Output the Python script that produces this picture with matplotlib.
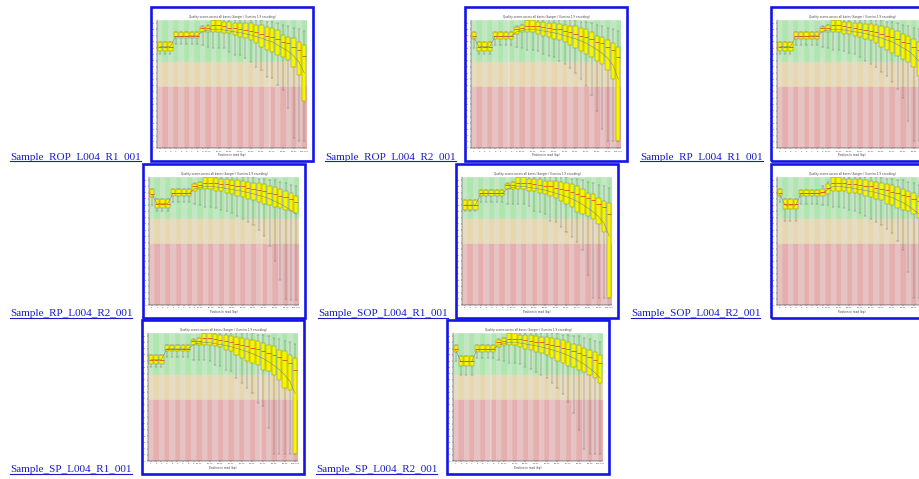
import numpy as np
import matplotlib.pyplot as plt
from matplotlib.patches import Rectangle
from matplotlib.lines import Line2D

W, H = 920, 479

bins = ['1', '2', '3', '4', '5', '6', '7', '8', '9', '10-14', '15-19', '20-24',
        '25-29', '30-34', '35-39', '40-44', '45-49', '50-54', '55-59', '60-64',
        '65-69', '70-74', '75-79', '80-84', '85-89', '90-94', '95-99', '100-101']

# --- Sample_ROP_L004_R1_001
rop_r1_lo = [30.0, 30.0, 30.0, 33.2, 33.2, 33.2, 33.2, 33.2, 33.0, 32.5, 32.0, 31.9, 31.9, 30.9, 29.8, 29.8, 28.8, 27.7, 26.1, 25.0, 22.9, 22.4, 20.2, 18.6, 12.8, 3.2, 2.1, 2.1]
rop_r1_q1 = [31.1, 31.1, 31.1, 35.1, 35.1, 35.1, 35.1, 35.1, 37.3, 37.3, 37.3, 37.3, 36.7, 36.7, 36.2, 35.7, 35.1, 34.6, 33.5, 32.5, 31.4, 30.9, 29.8, 29.3, 28.2, 26.1, 23.4, 14.9]
rop_r1_med = [32.3, 32.3, 32.3, 36.0, 36.0, 36.0, 36.0, 36.0, 38.3, 38.5, 39.3, 39.3, 39.0, 38.5, 38.3, 38.0, 37.8, 37.5, 37.0, 36.5, 36.0, 35.5, 35.0, 34.0, 33.5, 32.5, 31.5, 29.5]
rop_r1_q3 = [33.9, 33.9, 33.9, 37.1, 37.1, 37.1, 37.1, 37.1, 38.9, 39.2, 41.0, 41.0, 40.5, 40.3, 39.9, 39.9, 39.9, 39.9, 39.4, 39.4, 38.9, 38.3, 37.8, 36.2, 35.7, 35.1, 34.1, 33.0]
rop_r1_hi = [33.9, 33.9, 33.9, 37.1, 37.1, 37.1, 37.1, 37.1, 39.0, 39.5, 41.0, 41.0, 41.0, 41.0, 41.0, 41.0, 41.0, 41.0, 41.0, 41.0, 40.5, 40.5, 40.0, 39.5, 39.0, 38.5, 38.0, 37.5]
rop_r1_mean = [32.5, 32.5, 32.5, 35.8, 35.8, 35.8, 35.9, 35.9, 37.4, 37.7, 38.0, 38.0, 37.8, 37.5, 37.2, 37.0, 36.6, 36.2, 35.7, 35.2, 34.5, 34.0, 33.0, 32.0, 31.0, 29.5, 27.5, 24.0]

# --- Sample_ROP_L004_R2_001
rop_r2_lo = [32.0, 30.0, 30.0, 30.0, 33.0, 33.0, 33.0, 33.0, 32.5, 32.0, 31.5, 31.5, 31.0, 30.0, 29.5, 29.0, 28.0, 27.0, 25.5, 24.0, 22.0, 20.0, 17.0, 12.0, 6.0, 2.1, 2.1, 2.1]
rop_r2_q1 = [35.0, 31.0, 31.0, 31.0, 35.0, 35.0, 35.0, 35.0, 36.5, 37.0, 37.0, 37.0, 36.5, 36.0, 35.5, 35.0, 34.5, 34.0, 33.0, 32.0, 31.0, 30.0, 29.0, 28.0, 27.0, 25.0, 22.0, 2.1]
rop_r2_med = [36.0, 32.5, 32.5, 32.5, 36.0, 36.0, 36.0, 36.0, 38.0, 38.5, 39.2, 39.2, 39.0, 38.7, 38.5, 38.2, 38.0, 37.5, 37.0, 36.5, 36.0, 35.5, 35.0, 34.0, 33.5, 32.5, 31.5, 29.0]
rop_r2_q3 = [37.0, 34.0, 34.0, 34.0, 37.0, 37.0, 37.0, 37.0, 38.9, 39.5, 41.0, 41.0, 40.5, 40.3, 40.0, 40.0, 39.8, 39.5, 39.2, 39.0, 38.5, 38.0, 37.0, 36.0, 35.5, 34.5, 33.5, 32.5]
rop_r2_hi = [37.0, 34.0, 34.0, 34.0, 37.0, 37.0, 37.0, 37.0, 39.0, 39.5, 41.0, 41.0, 41.0, 41.0, 41.0, 41.0, 41.0, 41.0, 41.0, 41.0, 40.5, 40.5, 40.0, 39.5, 39.0, 38.5, 38.0, 37.5]
rop_r2_mean = [35.5, 32.5, 32.5, 32.5, 35.8, 35.8, 35.8, 35.8, 37.2, 37.6, 38.0, 38.0, 37.8, 37.5, 37.2, 36.9, 36.5, 36.0, 35.5, 35.0, 34.3, 33.6, 32.6, 31.5, 30.3, 28.8, 26.5, 22.0]

# --- Sample_RP_L004_R1_001
rp_r1_lo = [30.0, 30.0, 30.0, 33.0, 33.0, 33.0, 33.0, 33.0, 32.5, 32.0, 31.5, 31.5, 31.0, 30.5, 30.0, 29.0, 28.0, 27.0, 26.0, 24.5, 23.0, 21.0, 19.0, 16.0, 8.5, 2.1, 2.1, 2.1]
rp_r1_q1 = [31.0, 31.0, 31.0, 35.0, 35.0, 35.0, 35.0, 35.0, 37.0, 37.0, 37.0, 37.0, 36.5, 36.5, 36.0, 35.5, 35.0, 34.5, 33.5, 32.5, 31.5, 30.5, 29.5, 28.5, 27.5, 26.0, 23.0, 15.0]
rp_r1_med = [32.3, 32.3, 32.3, 36.0, 36.0, 36.0, 36.0, 36.0, 38.3, 38.5, 39.3, 39.3, 39.0, 38.6, 38.3, 38.0, 37.8, 37.5, 37.0, 36.5, 36.0, 35.5, 35.0, 34.0, 33.5, 32.5, 31.5, 29.5]
rp_r1_q3 = [33.9, 33.9, 33.9, 37.1, 37.1, 37.1, 37.1, 37.1, 38.9, 39.4, 41.0, 41.0, 40.5, 40.3, 40.0, 40.0, 39.8, 39.6, 39.4, 39.2, 38.8, 38.2, 37.6, 36.5, 35.8, 35.0, 34.0, 33.0]
rp_r1_hi = [33.9, 33.9, 33.9, 37.1, 37.1, 37.1, 37.1, 37.1, 39.0, 39.5, 41.0, 41.0, 41.0, 41.0, 41.0, 41.0, 41.0, 41.0, 41.0, 41.0, 40.5, 40.5, 40.0, 39.5, 39.0, 38.5, 38.0, 37.5]
rp_r1_mean = [32.5, 32.5, 32.5, 35.8, 35.8, 35.8, 35.9, 35.9, 37.4, 37.7, 38.0, 38.0, 37.8, 37.5, 37.2, 37.0, 36.6, 36.2, 35.7, 35.2, 34.6, 34.0, 33.1, 32.1, 31.1, 29.7, 27.8, 24.5]

# --- Sample_RP_L004_R2_001
rp_r2_lo = [32.0, 30.0, 30.0, 30.0, 33.0, 33.0, 33.0, 33.0, 32.5, 32.0, 31.5, 31.5, 31.0, 30.5, 30.0, 29.5, 28.5, 27.5, 26.5, 25.5, 24.0, 22.0, 19.0, 14.0, 8.0, 2.0, 1.6, 1.6]
rp_r2_q1 = [34.5, 31.0, 31.0, 31.0, 35.0, 35.0, 35.0, 35.0, 36.5, 37.0, 37.0, 37.0, 36.5, 36.5, 36.0, 35.5, 35.0, 34.5, 34.0, 33.5, 33.0, 32.5, 32.0, 31.5, 31.0, 30.5, 30.0, 29.5]
rp_r2_med = [35.5, 32.5, 32.5, 32.5, 36.0, 36.0, 36.0, 36.0, 38.0, 38.5, 39.2, 39.2, 39.0, 38.8, 38.6, 38.4, 38.2, 38.0, 37.6, 37.2, 36.8, 36.4, 36.0, 35.5, 35.0, 34.5, 34.0, 33.0]
rp_r2_q3 = [37.0, 34.0, 34.0, 34.0, 37.0, 37.0, 37.0, 37.0, 38.9, 39.5, 41.0, 41.0, 40.7, 40.5, 40.3, 40.0, 40.0, 39.8, 39.5, 39.2, 39.0, 38.6, 38.2, 37.8, 37.2, 36.5, 35.8, 35.0]
rp_r2_hi = [37.0, 34.0, 34.0, 34.0, 37.0, 37.0, 37.0, 37.0, 39.0, 39.5, 41.0, 41.0, 41.0, 41.0, 41.0, 41.0, 41.0, 41.0, 41.0, 41.0, 40.5, 40.5, 40.0, 40.0, 39.5, 39.0, 38.5, 38.0]
rp_r2_mean = [35.5, 32.5, 32.5, 32.5, 35.8, 35.8, 35.8, 35.8, 37.2, 37.6, 38.0, 38.0, 37.8, 37.6, 37.3, 37.0, 36.7, 36.4, 36.0, 35.6, 35.1, 34.6, 34.0, 33.2, 32.4, 31.4, 30.3, 29.0]

# --- Sample_SOP_L004_R1_001
sop_r1_lo = [30.0, 30.0, 30.0, 32.9, 32.9, 32.9, 32.9, 32.9, 32.3, 32.3, 32.3, 32.3, 31.8, 30.2, 29.7, 29.2, 27.0, 26.5, 24.9, 23.3, 21.7, 20.1, 17.5, 9.5, 2.1, 2.1, 2.1, 2.1]
sop_r1_q1 = [30.5, 30.5, 30.5, 35.0, 35.0, 35.0, 35.0, 35.0, 37.1, 37.1, 37.1, 37.1, 36.6, 36.4, 36.0, 35.5, 35.0, 34.4, 33.4, 32.3, 31.3, 29.7, 29.2, 28.6, 27.6, 26.0, 23.3, 2.1]
sop_r1_med = [32.0, 32.0, 32.0, 35.9, 35.9, 35.9, 35.9, 35.9, 38.3, 38.5, 39.2, 39.2, 39.0, 38.7, 38.5, 38.2, 38.0, 37.6, 37.2, 36.8, 36.2, 35.6, 35.0, 34.2, 33.5, 32.5, 31.5, 29.2]
sop_r1_q3 = [33.6, 33.6, 33.6, 36.8, 36.8, 36.8, 36.8, 36.8, 38.9, 39.5, 41.0, 41.0, 40.3, 40.3, 40.3, 39.8, 39.8, 39.8, 39.5, 39.2, 38.7, 38.2, 37.1, 36.0, 35.5, 34.4, 33.4, 32.8]
sop_r1_hi = [33.6, 33.6, 33.6, 36.8, 36.8, 36.8, 36.8, 36.8, 39.0, 39.5, 41.0, 41.0, 41.0, 41.0, 41.0, 41.0, 41.0, 41.0, 41.0, 41.0, 40.5, 40.5, 40.0, 39.5, 39.0, 38.5, 38.0, 37.5]
sop_r1_mean = [32.0, 32.0, 32.0, 35.7, 35.7, 35.7, 35.8, 35.8, 37.3, 37.6, 38.0, 38.0, 37.7, 37.4, 37.1, 36.8, 36.3, 35.8, 35.3, 34.7, 34.0, 33.2, 32.2, 31.0, 29.8, 28.3, 26.2, 22.0]

# --- Sample_SOP_L004_R2_001
sop_r2_lo = [33.0, 27.0, 27.0, 27.0, 32.5, 32.5, 32.5, 32.5, 32.0, 32.0, 31.5, 31.5, 31.0, 30.5, 30.0, 29.5, 28.5, 27.5, 26.5, 25.5, 24.5, 23.0, 20.5, 17.5, 10.5, 2.1, 2.1, 2.1]
sop_r2_q1 = [35.0, 30.7, 30.7, 30.7, 35.0, 35.0, 35.0, 35.0, 35.0, 35.5, 36.5, 36.5, 36.5, 36.0, 36.0, 35.5, 35.0, 34.5, 34.0, 33.5, 32.5, 32.0, 31.0, 30.5, 30.0, 29.0, 28.0, 27.0]
sop_r2_med = [36.0, 32.5, 32.5, 32.5, 36.0, 36.0, 36.0, 36.0, 36.2, 37.5, 39.2, 39.2, 39.0, 38.8, 38.6, 38.4, 38.2, 38.0, 37.6, 37.2, 36.8, 36.3, 35.8, 35.3, 34.8, 34.0, 33.3, 32.5]
sop_r2_q3 = [37.0, 33.9, 33.9, 33.9, 36.8, 36.8, 36.8, 36.8, 37.0, 38.8, 41.0, 41.0, 40.5, 40.5, 40.3, 40.3, 40.0, 39.8, 39.5, 39.2, 38.8, 38.3, 37.8, 37.2, 36.5, 35.8, 35.0, 34.0]
sop_r2_hi = [37.0, 33.9, 33.9, 33.9, 36.8, 36.8, 36.8, 36.8, 38.0, 39.5, 41.0, 41.0, 41.0, 41.0, 41.0, 41.0, 41.0, 41.0, 41.0, 41.0, 40.5, 40.5, 40.0, 40.0, 39.5, 39.0, 38.5, 38.0]
sop_r2_mean = [35.5, 32.0, 32.0, 32.0, 35.7, 35.7, 35.7, 35.7, 35.9, 37.0, 38.0, 38.0, 37.8, 37.6, 37.3, 37.0, 36.7, 36.4, 36.0, 35.5, 35.0, 34.4, 33.6, 32.8, 31.8, 30.5, 29.2, 27.5]

# --- Sample_SP_L004_R1_001
sp_r1_lo = [30.0, 30.0, 30.0, 33.2, 33.2, 33.2, 33.2, 33.2, 32.5, 32.2, 32.2, 31.9, 30.9, 30.4, 29.3, 28.8, 26.6, 25.0, 23.4, 21.8, 18.6, 17.6, 10.7, 2.1, 2.1, 2.1, 2.1, 2.1]
sp_r1_q1 = [31.1, 31.1, 31.1, 35.1, 35.1, 35.1, 35.1, 35.1, 37.3, 37.3, 37.3, 37.3, 36.7, 36.4, 35.7, 35.1, 34.1, 33.0, 31.9, 31.4, 30.9, 29.3, 28.8, 27.7, 26.1, 23.4, 22.9, 2.1]
sp_r1_med = [32.3, 32.3, 32.3, 36.0, 36.0, 36.0, 36.0, 36.0, 38.3, 38.5, 39.3, 39.3, 39.0, 38.7, 38.4, 38.0, 37.6, 37.2, 36.8, 36.3, 35.8, 35.3, 34.7, 34.0, 33.3, 32.4, 31.4, 29.3]
sp_r1_q3 = [33.9, 33.9, 33.9, 37.3, 37.3, 37.3, 37.3, 37.3, 38.9, 39.4, 41.0, 41.0, 40.7, 40.5, 40.3, 39.9, 39.6, 39.4, 39.2, 38.9, 38.3, 37.8, 37.3, 36.7, 35.7, 35.1, 34.1, 33.0]
sp_r1_hi = [33.9, 33.9, 33.9, 37.3, 37.3, 37.3, 37.3, 37.3, 39.0, 39.5, 41.0, 41.0, 41.0, 41.0, 41.0, 41.0, 41.0, 41.0, 41.0, 41.0, 40.5, 40.5, 40.0, 39.5, 39.0, 38.5, 38.0, 37.5]
sp_r1_mean = [32.5, 32.5, 32.5, 35.9, 35.9, 35.9, 35.9, 35.9, 37.4, 37.7, 38.0, 37.9, 37.6, 37.3, 37.0, 36.6, 36.1, 35.6, 35.0, 34.4, 33.6, 32.8, 31.8, 30.6, 29.3, 27.6, 25.5, 21.5]

# --- Sample_SP_L004_R2_001
sp_r2_lo = [32.0, 27.5, 27.5, 27.5, 33.0, 33.0, 33.0, 33.0, 32.5, 32.0, 31.5, 31.5, 31.0, 30.0, 29.5, 28.5, 27.5, 26.5, 25.0, 23.5, 21.5, 19.0, 15.5, 10.0, 4.0, 2.1, 2.1, 2.1]
sp_r2_q1 = [35.0, 30.5, 30.5, 30.5, 35.0, 35.0, 35.0, 35.0, 36.5, 37.0, 37.0, 37.0, 36.5, 36.0, 35.5, 35.0, 34.5, 34.0, 33.0, 32.0, 31.5, 30.5, 30.0, 29.0, 28.5, 27.5, 26.5, 25.0]
sp_r2_med = [36.0, 32.0, 32.0, 32.0, 36.0, 36.0, 36.0, 36.0, 38.0, 38.5, 39.2, 39.2, 39.0, 38.7, 38.5, 38.2, 38.0, 37.6, 37.2, 36.8, 36.3, 35.8, 35.3, 34.6, 34.0, 33.2, 32.4, 31.5]
sp_r2_q3 = [37.0, 33.5, 33.5, 33.5, 37.0, 37.0, 37.0, 37.0, 38.9, 39.5, 41.0, 41.0, 40.5, 40.3, 40.3, 40.0, 39.8, 39.6, 39.3, 39.0, 38.6, 38.2, 37.6, 37.0, 36.3, 35.6, 34.8, 34.0]
sp_r2_hi = [37.0, 33.5, 33.5, 33.5, 37.0, 37.0, 37.0, 37.0, 39.0, 39.5, 41.0, 41.0, 41.0, 41.0, 41.0, 41.0, 41.0, 41.0, 41.0, 41.0, 40.5, 40.5, 40.0, 40.0, 39.5, 39.0, 38.5, 38.0]
sp_r2_mean = [35.5, 31.8, 31.8, 31.8, 35.8, 35.8, 35.8, 35.8, 37.2, 37.6, 38.0, 38.0, 37.8, 37.5, 37.2, 36.9, 36.5, 36.1, 35.6, 35.1, 34.5, 33.8, 33.0, 32.0, 31.0, 29.7, 28.3, 26.5]

samples = [
    ('Sample_ROP_L004_R1_001', rop_r1_lo, rop_r1_q1, rop_r1_med, rop_r1_q3, rop_r1_hi, rop_r1_mean),
    ('Sample_ROP_L004_R2_001', rop_r2_lo, rop_r2_q1, rop_r2_med, rop_r2_q3, rop_r2_hi, rop_r2_mean),
    ('Sample_RP_L004_R1_001', rp_r1_lo, rp_r1_q1, rp_r1_med, rp_r1_q3, rp_r1_hi, rp_r1_mean),
    ('Sample_RP_L004_R2_001', rp_r2_lo, rp_r2_q1, rp_r2_med, rp_r2_q3, rp_r2_hi, rp_r2_mean),
    ('Sample_SOP_L004_R1_001', sop_r1_lo, sop_r1_q1, sop_r1_med, sop_r1_q3, sop_r1_hi, sop_r1_mean),
    ('Sample_SOP_L004_R2_001', sop_r2_lo, sop_r2_q1, sop_r2_med, sop_r2_q3, sop_r2_hi, sop_r2_mean),
    ('Sample_SP_L004_R1_001', sp_r1_lo, sp_r1_q1, sp_r1_med, sp_r1_q3, sp_r1_hi, sp_r1_mean),
    ('Sample_SP_L004_R2_001', sp_r2_lo, sp_r2_q1, sp_r2_med, sp_r2_q3, sp_r2_hi, sp_r2_mean),
]

# page layout in pixels: image border (left, top), link text (left, baseline)
img_pos = [(151, 7), (465, 7), (771, 7), (143, 164), (456, 164), (771, 164), (142, 320), (447, 320)]
link_pos = [(10, 159.5), (325, 159.5), (640, 159.5), (10, 316), (318, 316), (631, 316), (10, 472), (316, 472)]

BLUE = '#1414e6'
LINK = '#1a1acc'
zones = [(0, 20, '#e6c3c3', '#e6afaf'), (20, 28, '#e6dcc3', '#e6d7af'), (28, 41, '#c3e6c3', '#afe6af')]

fig = plt.figure(figsize=(W / 100, H / 100), dpi=100)
fig.patch.set_facecolor('white')


def px(x, y):
    return x / W, 1 - y / H


def draw_panel(L, T, lo, q1, med, q3, hi, mean):
    x0, y0 = px(L, T + 154)
    fig.patches.append(Rectangle((x0, y0), 162 / W, 154 / H, transform=fig.transFigure,
                                 fill=False, ec=BLUE, lw=1.9))
    ax = fig.add_axes([(L + 6) / W, 1 - (T + 141) / H, 150 / W, 128 / H])
    x = np.arange(len(bins))
    for zlo, zhi, c0, c1 in zones:
        cols = [c0 if i % 2 == 0 else c1 for i in x]
        ax.bar(x, zhi - zlo, bottom=zlo, width=1.0, color=cols, edgecolor=cols, lw=0.4)
    stats = [dict(whislo=a, q1=b, med=c, q3=d, whishi=e) for a, b, c, d, e in zip(lo, q1, med, q3, hi)]
    ax.bxp(stats, positions=x, widths=0.8, showfliers=False, patch_artist=True,
           boxprops=dict(facecolor='#f5f500', edgecolor='#8a8a20', lw=0.3),
           medianprops=dict(color='#e03020', lw=0.5),
           whiskerprops=dict(color='#707070', lw=0.3),
           capprops=dict(color='#707070', lw=0.3))
    ax.plot(x, mean, color='#6a6aa8', lw=0.3)
    ax.set_xlim(-0.5, len(bins) - 0.5)
    ax.set_ylim(0, 41)
    ax.set_facecolor('white')
    # tick labels that would sit past the page edge are not shown
    right_px = L + 6 + 150
    tick_idx = [i for i in list(range(10)) + list(range(11, 28, 2))
                if L + 6 + (i + 0.5) * 150 / len(bins) < W - 6]
    ax.set_xticks(tick_idx)
    ax.set_xticklabels([bins[i] for i in tick_idx])
    ax.set_yticks(range(0, 42, 2))
    ax.tick_params(labelsize=1.6, length=1, width=0.3, pad=0.8, colors='#444444')
    for s in ['top', 'right']:
        ax.spines[s].set_visible(False)
    for s in ['left', 'bottom']:
        ax.spines[s].set_linewidth(0.3)
    ax.set_title('Quality scores across all bases (Sanger / Illumina 1.9 encoding)',
                 fontsize=2.0, pad=1.5, color='#444444')
    ax.set_xlabel('Position in read (bp)', fontsize=2.0, labelpad=1, color='#444444')


for (name, lo, q1, med, q3, hi, mean), (L, T) in zip(samples, img_pos):
    draw_panel(L, T, lo, q1, med, q3, hi, mean)

labels = []
for (name, *_), (lx, ly) in zip(samples, link_pos):
    tx, ty = px(lx, ly)
    labels.append(fig.text(tx, ty, name, fontsize=8, family='Liberation Serif',
                           color=LINK, va='baseline', ha='left'))

fig.canvas.draw()
r = fig.canvas.get_renderer()
for t, (lx, ly) in zip(labels, link_pos):
    bb = t.get_window_extent(r)
    yy = 1 - (ly + 1.5) / H
    fig.lines.append(Line2D([bb.x0 / W, bb.x1 / W], [yy, yy], transform=fig.transFigure,
                            color=LINK, lw=0.8))

fig.savefig('out.png', dpi=100)
